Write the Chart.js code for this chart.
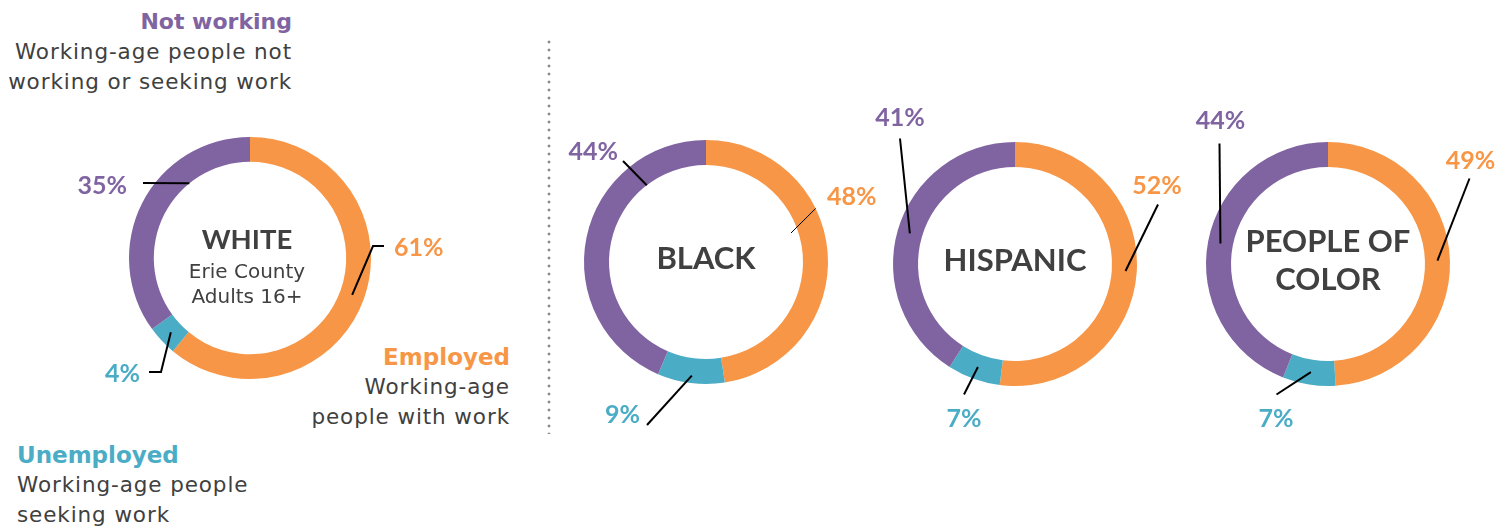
<!DOCTYPE html>
<html lang="en">
<head>
    <meta charset="UTF-8">
    <title>Labor force status by race - Erie County</title>
    <script src="https://cdn.jsdelivr.net/npm/chart.js"></script>
    <style>
        body {
            margin: 0;
            width: 1512px;
            height: 529px;
            position: relative;
            overflow: hidden;
            background: #fff;
            color: #404040;
            font-family: 'DejaVu Sans', sans-serif;
        }
        .donut { position: absolute; width: 420px; height: 420px; }
        .legend { position: absolute; font-size: 21.5px; line-height: 30px; letter-spacing: 0.9px; white-space: nowrap; }
        .legend b { display: block; font-size: 23px; letter-spacing: 0; }
        .divider {
            position: absolute; left: 547px; top: 38px; width: 4px; height: 396px;
            background: radial-gradient(circle, #8c8c8c 1.3px, transparent 1.7px) 0 0 / 4px 8px repeat-y;
        }
    </style>
</head>
<body>
    <!-- Legend notes -->
    <div class="legend" style="right:1220px; top:7px; text-align:right;">
        <b style="color:#8064A2; font-size:22px">Not working</b>
        Working-age people not<br>working or seeking work
    </div>
    <div class="legend" style="right:1002px; top:342px; text-align:right;">
        <b style="color:#F79646">Employed</b>
        Working-age<br>people with work
    </div>
    <div class="legend" style="left:17px; top:440px;">
        <b style="color:#4BACC6">Unemployed</b>
        Working-age people<br>seeking work
    </div>
    <div class="divider"></div>

    <div class="donut" id="d0"><canvas id="c0"></canvas></div>
    <div class="donut" id="d1"><canvas id="c1"></canvas></div>
    <div class="donut" id="d2"><canvas id="c2"></canvas></div>
    <div class="donut" id="d3"><canvas id="c3"></canvas></div>

    <script>
        // Data
        const groups = ['WHITE', 'BLACK', 'HISPANIC', 'PEOPLE OF COLOR'];
        const categories = ['Employed', 'Unemployed', 'Not working'];
        const employed = [61, 48, 52, 49];
        const unemployed = [4, 9, 7, 7];
        const notWorking = [35, 44, 41, 44];
        const centerLines = [
            ['WHITE', 'Erie County', 'Adults 16+'],
            ['BLACK'],
            ['HISPANIC'],
            ['PEOPLE OF', 'COLOR']
        ];

        // Styling / layout
        const colors = ['#F79646', '#4BACC6', '#8064A2'];
        const centers = [[250, 258], [706, 262], [1015, 263.5], [1327.5, 263.5]];
        const radii = [121, 122, 122, 122];
        const BOX = 420;

        // leader lines: anchor = fraction along the slice (f) and across the ring (rf),
        // then extra points and the label spot, relative to the ring centre
        const leaders = [
            [
                { f: 0.5, rf: 0.5, pts: [[123, -12], [134, -12]], lx: 144, ly: -10, align: 'left' },
                { f: 0.5, rf: 0.5, pts: [[-89, 114], [-101, 114]], lx: -110, ly: 116, align: 'right' },
                { f: 0.69, rf: 0, pts: [[-107, -75]], lx: -123, ly: -72, align: 'right' }
            ],
            [
                { f: 0.374, rf: 1, pts: [[85, -29]], lx: 121, ly: -65, align: 'left', w: 1 },
                { f: 0.5, rf: 0.7, pts: [[-59, 163]], lx: -66, ly: 153, align: 'right' },
                { f: 0.76, rf: 0, pts: [[-83, -101]], lx: -88, ly: -110, align: 'right' }
            ],
            [
                { f: 0.5, rf: 0.55, pts: [[143, -59.5]], lx: 142, ly: -78.5, align: 'center' },
                { f: 0.5, rf: 0.5, pts: [[-51, 130.5]], lx: -51, ly: 154.5, align: 'center' },
                { f: 0.5, rf: 0.5, pts: [[-115, -125.5]], lx: -115, ly: -146.5, align: 'center' }
            ],
            [
                { f: 0.5, rf: 0.5, pts: [[141.5, -85.5]], lx: 142.5, ly: -103.5, align: 'center' },
                { f: 0.5, rf: 0.5, pts: [[-51.5, 130.5]], lx: -52, ly: 154.5, align: 'center' },
                { f: 0.5, rf: 0.5, pts: [[-108.5, -120.5]], lx: -107.5, ly: -143.5, align: 'center' }
            ]
        ];

        const labelPlugin = {
            id: 'labels',
            afterDatasetsDraw(chart, args, opts) {
                const ctx = chart.ctx;
                const meta = chart.getDatasetMeta(0);
                const values = chart.data.datasets[0].data;
                const cfg = leaders[opts.index];
                ctx.save();
                meta.data.forEach((arc, i) => {
                    const p = arc.getProps(['x', 'y', 'startAngle', 'endAngle', 'innerRadius', 'outerRadius'], true);
                    const l = cfg[i];
                    const a = p.startAngle + l.f * (p.endAngle - p.startAngle);
                    const r = p.innerRadius + l.rf * (p.outerRadius - p.innerRadius);
                    ctx.beginPath();
                    ctx.moveTo(p.x + r * Math.cos(a), p.y + r * Math.sin(a));
                    l.pts.forEach(pt => ctx.lineTo(p.x + pt[0], p.y + pt[1]));
                    ctx.lineWidth = l.w || 2;
                    ctx.strokeStyle = '#000';
                    ctx.stroke();

                    ctx.font = 'bold 25px Lato, sans-serif';
                    ctx.fillStyle = colors[i];
                    ctx.textAlign = l.align;
                    ctx.textBaseline = 'middle';
                    ctx.fillText(values[i] + '%', p.x + l.lx, p.y + l.ly);
                });

                // centre text
                const cx = meta.data[0].x, cy = meta.data[0].y;
                const lines = centerLines[opts.index];
                ctx.fillStyle = '#404040';
                ctx.textAlign = 'center';
                ctx.textBaseline = 'middle';
                if (opts.index === 0) {
                    ctx.font = 'bold 27.5px Lato, sans-serif';
                    ctx.fillText(lines[0], cx - 3, cy - 18);
                    ctx.font = '20px "DejaVu Sans", sans-serif';
                    ctx.fillText(lines[1], cx - 3, cy + 15);
                    ctx.fillText(lines[2], cx - 3, cy + 40);
                } else {
                    ctx.font = 'bold 31px Lato, sans-serif';
                    const lh = 38;
                    const top = cy - (lines.length - 1) * lh / 2 - 3;
                    lines.forEach((t, k) => ctx.fillText(t, cx, top + k * lh));
                }
                ctx.restore();
            }
        };

        groups.forEach((g, i) => {
            const box = document.getElementById('d' + i);
            box.style.left = (centers[i][0] - BOX / 2) + 'px';
            box.style.top = (centers[i][1] - BOX / 2) + 'px';
            const pad = BOX / 2 - radii[i];
            new Chart(document.getElementById('c' + i), {
                type: 'doughnut',
                data: {
                    labels: categories,
                    datasets: [{
                        data: [employed[i], unemployed[i], notWorking[i]],
                        backgroundColor: colors,
                        borderWidth: 0
                    }]
                },
                options: {
                    responsive: true,
                    maintainAspectRatio: false,
                    animation: false,
                    cutout: '79.5%',
                    layout: { padding: pad },
                    events: [],
                    plugins: {
                        legend: { display: false },
                        tooltip: { enabled: false },
                        labels: { index: i }
                    }
                },
                plugins: [labelPlugin]
            });
        });
    </script>
</body>
</html>
